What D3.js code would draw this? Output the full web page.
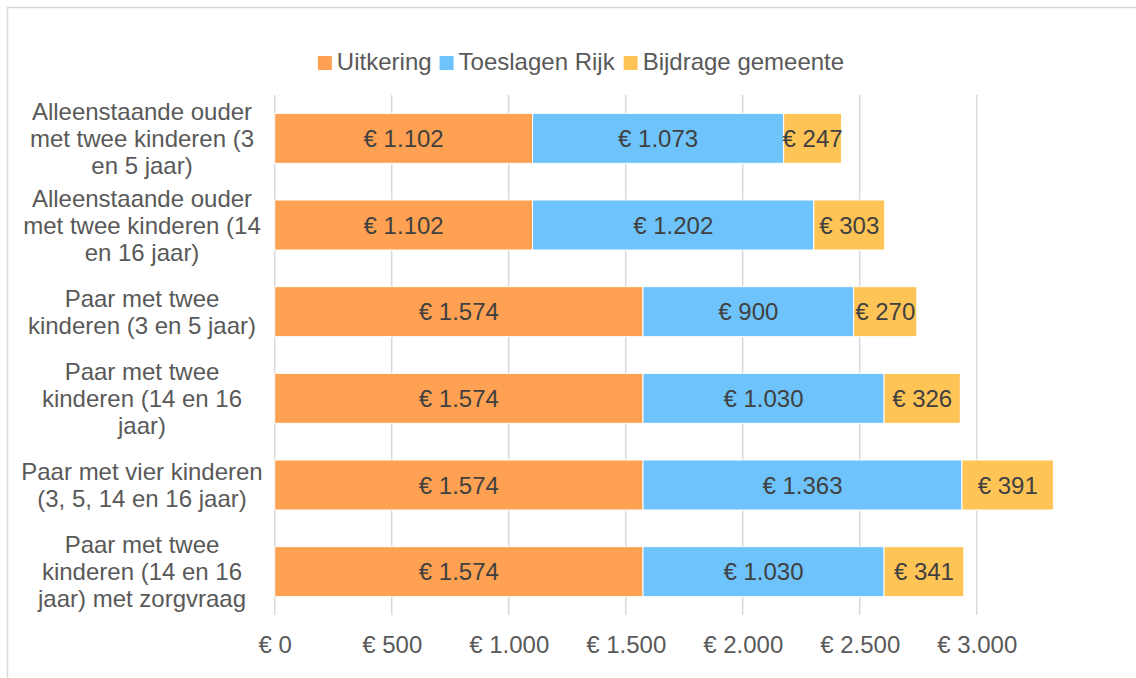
<!DOCTYPE html>
<html>
<head>
<meta charset="utf-8">
<script src="https://cdn.jsdelivr.net/npm/d3@7"></script>
<style>
  body { margin: 0; background: #fff; }
  svg { display: block; font-family: "Liberation Sans", Arial, sans-serif; }
</style>
</head>
<body>
<svg id="chart"></svg>
<script>
// Data
const categories = [
  ["Alleenstaande ouder", "met twee kinderen (3", "en 5 jaar)"],
  ["Alleenstaande ouder", "met twee kinderen (14", "en 16 jaar)"],
  ["Paar met twee", "kinderen (3 en 5 jaar)"],
  ["Paar met twee", "kinderen (14 en 16", "jaar)"],
  ["Paar met vier kinderen", "(3, 5, 14 en 16 jaar)"],
  ["Paar met twee", "kinderen (14 en 16", "jaar) met zorgvraag"]
];
const seriesNames = ["Uitkering", "Toeslagen Rijk", "Bijdrage gemeente"];
const uitkering = [1102, 1102, 1574, 1574, 1574, 1574];
const toeslagen = [1073, 1202, 900, 1030, 1363, 1030];
const bijdrage = [247, 303, 270, 326, 391, 341];
const xTicks = [0, 500, 1000, 1500, 2000, 2500, 3000];

const colors = ["#FFA152", "#6EC3FA", "#FFC456"];

// Dimensions
const width = 1136;
const height = 678;
const plotLeft = 274.7, plotRight = 976.7;
const plotTop = 95, plotBottom = 615;
const fontSize = 24;

const svg = d3.select("#chart")
  .attr("width", width)
  .attr("height", height);

// Chart border
svg.append("rect")
  .attr("x", 7.5).attr("y", 7.5)
  .attr("width", width + 20).attr("height", height + 20)
  .attr("fill", "none")
  .attr("stroke", "#d9d9d9")
  .attr("stroke-width", 1.5);

const nl = d3.formatLocale({ decimal: ",", thousands: ".", grouping: [3], currency: ["€ ", ""] });
const euro = v => "€ " + nl.format(",d")(v);

// Scales
const rows = categories.map((c, i) => ({ idx: i, lines: c, values: [uitkering[i], toeslagen[i], bijdrage[i]] }));

const xScale = d3.scaleLinear()
  .domain([0, 3000])
  .range([plotLeft, plotRight]);

const yScale = d3.scaleBand()
  .domain(d3.range(categories.length))
  .range([plotTop, plotBottom])
  .paddingInner(0.423)
  .paddingOuter(0.2115);

// Gridlines
svg.append("g")
  .selectAll("line")
  .data(xTicks)
  .enter()
  .append("line")
  .attr("x1", d => xScale(d)).attr("x2", d => xScale(d))
  .attr("y1", plotTop).attr("y2", plotBottom)
  .attr("stroke", "#d9d9d9")
  .attr("stroke-width", 1.5);

// X axis labels
const xAxis = d3.axisBottom(xScale)
  .tickValues(xTicks)
  .tickFormat(euro)
  .tickSize(0)
  .tickPadding(0);

const xAxisG = svg.append("g")
  .attr("transform", `translate(0, ${plotBottom})`)
  .call(xAxis);
xAxisG.select(".domain").remove();
xAxisG.selectAll("text")
  .attr("y", 38)
  .attr("dy", 0)
  .attr("font-size", fontSize)
  .attr("font-family", "Liberation Sans, Arial, sans-serif")
  .attr("fill", "#595959");

// Stack
const stacked = rows.map(r => {
  let x0 = 0;
  return r.values.map((v, s) => {
    const seg = { idx: r.idx, s, v, x0, x1: x0 + v };
    x0 += v;
    return seg;
  });
}).flat();

svg.append("g")
  .selectAll("rect")
  .data(stacked)
  .enter()
  .append("rect")
  .attr("x", d => xScale(d.x0))
  .attr("y", d => yScale(d.idx))
  .attr("width", d => xScale(d.x1) - xScale(d.x0))
  .attr("height", yScale.bandwidth())
  .attr("fill", d => colors[d.s])
  .attr("stroke", "#fff")
  .attr("stroke-width", 1);

// Bar labels
svg.append("g")
  .selectAll("text")
  .data(stacked)
  .enter()
  .append("text")
  .attr("x", d => (xScale(d.x0) + xScale(d.x1)) / 2)
  .attr("y", d => yScale(d.idx) + yScale.bandwidth() / 2)
  .attr("dy", "0.36em")
  .attr("text-anchor", "middle")
  .attr("font-size", fontSize)
  .attr("fill", "#404040")
  .text(d => euro(d.v));

// Category labels
const lineH = 27;
const catG = svg.append("g")
  .selectAll("text")
  .data(rows)
  .enter()
  .append("text")
  .attr("text-anchor", "middle")
  .attr("font-size", fontSize)
  .attr("fill", "#595959");

catG.selectAll("tspan")
  .data(d => d.lines.map((l, j) => ({ l, j, n: d.lines.length, idx: d.idx })))
  .enter()
  .append("tspan")
  .attr("x", 142)
  .attr("y", d => yScale(d.idx) + yScale.bandwidth() / 2 + (d.j - (d.n - 1) / 2) * lineH)
  .attr("dy", "0.36em")
  .text(d => d.l);

// Legend
const legend = svg.append("g");
const items = legend.selectAll("g")
  .data(seriesNames)
  .enter()
  .append("g");

items.append("rect")
  .attr("width", 14).attr("height", 14)
  .attr("y", 56)
  .attr("fill", (d, i) => colors[i]);

items.append("text")
  .attr("x", 19)
  .attr("y", 70)
  .attr("font-size", fontSize)
  .attr("fill", "#595959")
  .text(d => d);

let xpos = 0;
items.each(function () {
  const w = this.getBBox().width;
  d3.select(this).attr("transform", `translate(${xpos}, 0)`);
  xpos += w + 8;
});
const totalW = xpos - 8;
legend.attr("transform", `translate(${581 - totalW / 2}, 0)`);
</script>
</body>
</html>
